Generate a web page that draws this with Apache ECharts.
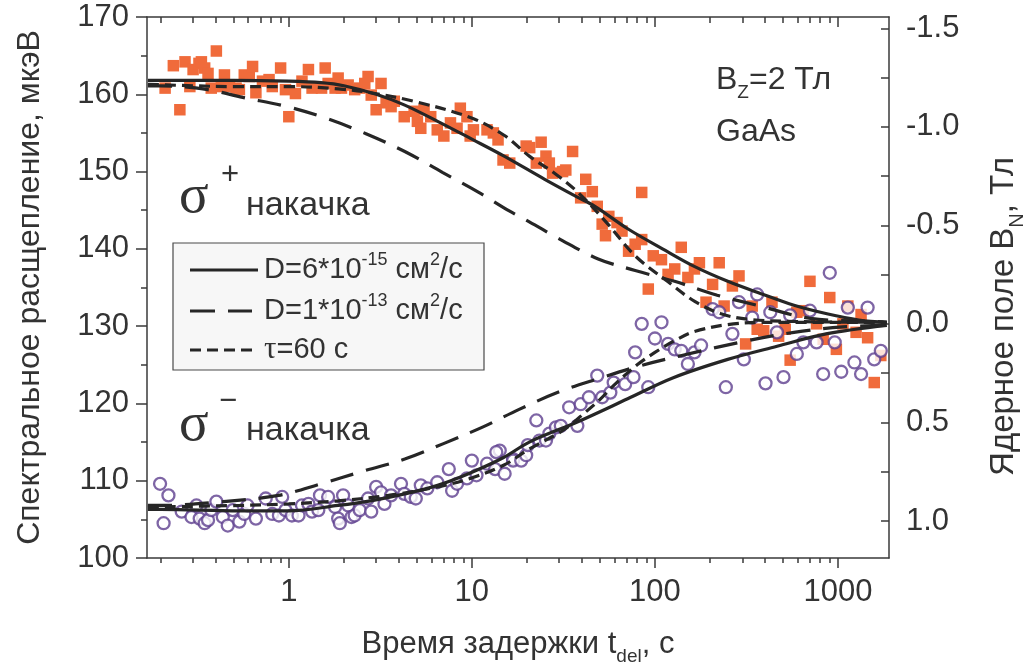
<!DOCTYPE html>
<html>
<head>
<meta charset="utf-8">
<script src="https://cdn.jsdelivr.net/npm/echarts@6/dist/echarts.min.js"></script>
<style>
  html, body { margin: 0; padding: 0; background: #ffffff; }
  #chart { width: 1035px; height: 671px; }
</style>
</head>
<body>
<div id="chart"></div>
<script>
// Delay-time range of the logarithmic x axis, in seconds
const xRange = [0.168, 1900];
// Spectral splitting range (left axis), μeV
const splitRange = [100, 170];
// Nuclear field range (right axis, inverted), T
const fieldRange = [-1.558, 1.188];

const xMajorTicks = [1, 10, 100, 1000];
const xMinorTicks = [0.2, 0.3, 0.4, 0.5, 0.6, 0.7, 0.8, 0.9,
  2, 3, 4, 5, 6, 7, 8, 9, 20, 30, 40, 50, 60, 70, 80, 90,
  200, 300, 400, 500, 600, 700, 800, 900];
const fieldLabels = [-1.5, -1.0, -0.5, 0.0, 0.5, 1.0];
const fieldTicks = [-1.5, -1.25, -1.0, -0.75, -0.5, -0.25, 0.0, 0.25, 0.5, 0.75, 1.0];

// Measured splitting, σ+ pumping: [t_del (s), splitting (μeV)]
const sigmaPlus = [
  [0.211,160.8],[0.234,163.7],[0.254,158.0],[0.271,164.2],[0.288,161.0],[0.300,163.2],
  [0.323,164.0],[0.333,164.2],[0.347,163.4],[0.362,162.7],[0.377,160.8],[0.402,165.6],
  [0.428,161.0],[0.445,162.5],[0.474,161.0],[0.515,160.8],[0.537,160.6],[0.571,162.5],
  [0.608,162.3],[0.634,163.6],[0.661,160.2],[0.718,161.7],[0.780,161.9],[0.812,161.0],
  [0.902,163.4],[0.959,160.6],[1.0,157.1],[1.087,160.1],[1.18,161.7],[1.28,163.2],
  [1.34,160.8],[1.51,160.8],[1.58,163.4],[1.64,161.4],[1.79,160.8],[1.86,162.1],
  [1.94,160.8],[2.11,161.2],[2.29,160.6],[2.44,160.8],[2.60,161.4],[2.71,162.3],
  [2.82,159.9],[3.00,158.0],[3.19,161.4],[3.40,158.9],[3.62,158.4],[3.77,159.1],
  [4.27,157.1],[4.84,157.8],[5.04,156.5],[5.26,155.6],[5.48,158.0],[5.96,157.1],
  [6.47,155.4],[7.03,154.6],[7.64,156.3],[8.30,155.6],[8.65,158.2],[9.40,157.1],
  [9.79,154.6],[10.2,155.4],[12.1,155.4],[13.1,155.0],[13.9,154.1],[14.8,151.5],
  [16.1,151.1],[19.8,153.3],[20.7,153.1],[22.5,151.1],[23.9,153.8],[25.4,152.0],
  [26.5,151.1],[27.6,149.8],[31.3,150.0],[32.6,150.2],[35.5,152.6],[41.9,149.0],
  [45.5,147.4],[84.7,147.3],[39.3,146.6],[48.4,145.5],[51.5,143.2],[53.7,141.7],
  [56.0,144.2],[62.1,143.4],[66.1,142.3],[71.8,139.7],[78.0,140.6],[84.7,141.2],
  [92.0,134.8],[97.9,139.1],[108.6,138.6],[118,136.7],[128.3,137.4],[139.3,140.2],
  [151.4,136.3],[164.4,137.4],[175,138.2],[190.2,133.1],[206.6,135.4],[224.5,138.2],
  [238.8,132.6],[265,135.2],[288,136.5],[313,127.7],[340,132.6],[362,129.6],
  [393,129.4],[436,133.1],[474,128.7],[515,129.6],[548,125.6],[596,131.8],
  [647,132.0],[703,135.8],[764,130.3],[830,128.3],[902,133.7],[980,127.0],
  [1064,130.3],[1132,132.6],[1256,129.2],[1337,131.5],[1452,128.5],[1578,122.7],
  [1714,126.2]
];

// Measured splitting, σ− pumping: [t_del (s), splitting (μeV)]
const sigmaMinus = [
  [0.198,109.6],[0.207,104.5],[0.220,108.1],[0.260,106.0],[0.294,105.3],[0.313,106.8],
  [0.326,105.1],[0.347,104.5],[0.362,104.9],[0.377,106.2],[0.402,107.3],[0.436,105.3],
  [0.464,104.2],[0.494,106.2],[0.537,104.7],[0.571,105.7],[0.595,106.8],[0.661,105.1],
  [0.748,107.7],[0.812,105.7],[0.883,105.5],[0.920,107.9],[0.959,106.2],[1.04,105.5],
  [1.13,105.5],[1.18,106.8],[1.28,107.0],[1.34,106.0],[1.45,106.2],[1.48,108.1],
  [1.64,107.9],[1.79,106.6],[1.86,105.1],[1.90,104.5],[1.98,108.1],[2.11,106.8],
  [2.20,105.3],[2.29,105.5],[2.44,106.2],[2.71,107.7],[2.82,106.0],[3.00,109.2],
  [3.19,108.5],[3.33,107.0],[3.62,108.1],[4.10,109.6],[4.27,108.3],[4.64,107.9],
  [4.94,107.7],[5.26,109.4],[5.71,109.0],[6.47,109.8],[7.48,111.5],[7.80,108.7],
  [8.30,109.6],[9.40,110.3],[10.0,112.6],[10.6,110.7],[12.1,112.2],[13.4,111.5],
  [14.2,113.9],[15.1,110.9],[16.8,112.8],[13.6,113.7],[16.8,112.6],[18.6,112.6],
  [19.8,113.3],[20.2,114.6],[22.5,117.8],[23.4,115.2],[25.4,115.2],[26.5,116.1],
  [28.8,116.9],[30.6,117.1],[34.0,119.5],[37.7,117.1],[39.3,119.9],[43.6,120.8],
  [48.4,123.6],[51.5,120.8],[57.1,121.4],[59.5,122.7],[68.8,122.5],[76.4,123.4],
  [92.0,122.1],[151.4,125.1],[244,122.1],[306,125.7],[402,122.6],[504,123.4],
  [830,123.8],[1042,124.1],[1230,125.3],[1337,123.8],[1578,125.7],
  [84.7,130.3],[108.6,130.5],[100,128.4],[118,127.7],[128.3,127.0],[139.3,126.8],
  [164.4,126.6],[178.7,127.5],[78.0,126.6],[206.6,132.2],[224.5,131.8],[265,129.0],
  [288,133.1],[340,131.1],[362,134.1],[427,131.8],[464,129.2],[548,131.4],
  [596,126.4],[647,127.9],[703,132.0],[764,127.9],[902,136.9],[960,127.9],
  [1132,132.4],[1452,132.4],[1714,126.8]
];

// Model curves, D = 6e-15 cm²/s
const diffSlowPlus = [
  [0.17,161.8],[0.3,161.8],[0.5,161.8],[1,161.7],[1.5,161.5],[2,161.1],[3,160.0],
  [4.3,158.6],[6.5,156.5],[10,154.2],[15,152.0],[25,149.0],[37,146.8],[47,145.5],
  [71,142.6],[110,140.0],[165,137.7],[250,135.8],[380,134.2],[575,132.7],[870,131.6],
  [1300,130.8],[1850,130.5]
];
const diffSlowMinus = [
  [0.17,106.3],[0.2,106.3],[0.54,106.1],[1,106.1],[1.86,106.8],[2.8,107.4],[4.3,108.3],
  [6.5,109.4],[9.8,111.0],[14.9,113.0],[20.6,115.0],[38.5,117.7],[71,120.6],[125,123.3],
  [250,125.7],[465,127.4],[860,129.0],[1850,130.1]
];
// Model curves, D = 1e-13 cm²/s
const diffFastPlus = [
  [0.17,161.1],[0.2,161.1],[0.36,160.6],[0.56,159.6],[0.98,158.4],[1.6,156.9],[2.64,154.9],
  [4.3,152.6],[6.9,149.9],[10.9,147.3],[16,144.9],[20.6,143.5],[30,141.3],[49,138.7],
  [78,137.2],[128,135.8],[219,134.0],[362,132.7],[707,131.0],[1600,130.6],[1850,130.5]
];
const diffFastMinus = [
  [0.17,106.8],[0.2,106.8],[0.44,107.3],[0.88,108.1],[1.5,109.6],[2.6,111.3],[4.3,112.8],
  [7.0,114.8],[11.6,117.0],[18,119.2],[30,121.5],[49,123.2],[81,124.8],[140,126.2],
  [318,128.1],[575,129.2],[1060,129.9],[1850,130.1]
];
// Model curves, τ = 60 s
const tauPlus = [
  [0.17,161.3],[0.3,161.1],[0.5,161.0],[1,161.0],[1.86,160.7],[2.8,160.2],[4.8,159.1],
  [9.8,157.0],[15,154.7],[20.6,152.0],[29,149.6],[38,147.3],[54,143.5],[78,139.1],
  [117,135.8],[165,133.2],[230,131.6],[320,130.9],[600,130.6],[1850,130.5]
];
const tauMinus = [
  [0.17,106.6],[0.54,106.8],[1,107.0],[1.86,107.4],[3.5,108.1],[6.5,109.2],[9.8,110.3],
  [14.9,112.0],[20.6,114.1],[31.4,116.5],[40,118.5],[50,120.5],[60,122.4],[80,125.0],
  [100,126.6],[130,128.2],[164,129.3],[250,130.2],[400,130.5],[1850,130.5]
];

const FONT = "'Liberation Sans', Arial, Helvetica, sans-serif";
const SERIF = "'Liberation Serif', 'Times New Roman', serif";
const TEXT = '#333333';
const AXIS = '#3a3a3a';
const CURVE = '#262626';
const ORANGE = '#f06b3b';
const PURPLE = '#5e3f8e';
const LONG_DASH = [24, 13];
const SHORT_DASH = [11, 6];

const axisLine = { show: true, onZero: false, lineStyle: { color: AXIS, width: 1.5 } };
const hiddenLine = { show: false, onZero: false };
const tickLine = { color: AXIS, width: 1.5 };

function xAxisBase(position) {
  return {
    type: 'log', logBase: 10, min: xRange[0], max: xRange[1],
    position: position, gridIndex: 0,
    splitLine: { show: false },
    axisLine: axisLine
  };
}

function curve(name, data, dash) {
  return {
    name: name, type: 'line', data: data, xAxisIndex: 0, yAxisIndex: 0,
    showSymbol: false, symbol: 'none', smooth: 0.35, z: 5, silent: true,
    lineStyle: { color: CURVE, width: 3.2, type: dash, cap: 'butt' }
  };
}

function plainText(x, y, text, font) {
  return {
    type: 'text', x: x, y: y, z: 10,
    style: { text: text, font: font, fill: TEXT, align: 'left', verticalAlign: 'middle',
      textAlign: 'left', textVerticalAlign: 'middle' }
  };
}

const chart = echarts.init(document.getElementById('chart'), null, { renderer: 'canvas' });

const legendX = 173, legendY = 243;
const legendRows = [270, 311, 350];

chart.setOption({
  animation: false,
  backgroundColor: '#ffffff',
  textStyle: { fontFamily: FONT },
  grid: { left: 147, right: 138, top: 17, bottom: 112, containLabel: false },
  xAxis: [
    Object.assign(xAxisBase('bottom'), {
      axisTick: { show: true, inside: false, length: 10, customValues: xMajorTicks, lineStyle: tickLine },
      axisLabel: {
        customValues: xMajorTicks, margin: 19, fontSize: 31, color: TEXT, fontFamily: FONT,
        formatter: function (v) { return String(Math.round(v)); }
      },
      name: '{m|Время задержки t}{s|del}{m|, с}',
      nameLocation: 'middle', nameGap: 64,
      nameTextStyle: {
        rich: {
          m: { fontSize: 31, fontFamily: FONT, color: TEXT, lineHeight: 44, verticalAlign: 'middle' },
          s: { fontSize: 19, fontFamily: FONT, color: TEXT, lineHeight: 44, verticalAlign: 'bottom' }
        }
      }
    }),
    Object.assign(xAxisBase('bottom'), {
      axisLine: hiddenLine,
      axisTick: { show: true, inside: false, length: 5, customValues: xMinorTicks, lineStyle: tickLine },
      axisLabel: { show: false }
    }),
    Object.assign(xAxisBase('top'), {
      axisTick: { show: true, inside: true, length: 10, customValues: xMajorTicks, lineStyle: tickLine },
      axisLabel: { show: false }
    }),
    Object.assign(xAxisBase('top'), {
      axisLine: hiddenLine,
      axisTick: { show: true, inside: true, length: 6, customValues: xMinorTicks, lineStyle: tickLine },
      axisLabel: { show: false }
    })
  ],
  yAxis: [
    {
      type: 'value', min: splitRange[0], max: splitRange[1], interval: 10, position: 'left',
      splitLine: { show: false },
      axisLine: axisLine,
      axisTick: { show: true, inside: false, length: 11, lineStyle: tickLine },
      minorTick: { show: true, splitNumber: 2, length: 6, lineStyle: tickLine },
      minorSplitLine: { show: false },
      axisLabel: { margin: 18, fontSize: 31, color: TEXT, fontFamily: FONT },
      name: 'Спектральное расщепление, мкэВ',
      nameLocation: 'middle', nameGap: 101, nameRotate: 90,
      nameTextStyle: { fontSize: 32, fontFamily: FONT, color: TEXT }
    },
    {
      type: 'value', min: fieldRange[0], max: fieldRange[1], inverse: true, position: 'right',
      splitLine: { show: false },
      axisLine: axisLine,
      axisTick: { show: true, inside: true, length: 8, customValues: fieldTicks, lineStyle: tickLine },
      axisLabel: {
        customValues: fieldLabels, margin: 17, fontSize: 31, color: TEXT, fontFamily: FONT,
        formatter: function (v) { return v.toFixed(1); }
      },
      name: '{m|Ядерное поле B}{s|N}{m|, Тл}',
      nameLocation: 'middle', nameGap: 92, nameRotate: 90,
      nameTextStyle: {
        padding: [0, 58, 0, 0],
        rich: {
          m: { fontSize: 33, fontFamily: FONT, color: TEXT, lineHeight: 46, verticalAlign: 'middle' },
          s: { fontSize: 20, fontFamily: FONT, color: TEXT, lineHeight: 46, verticalAlign: 'bottom' }
        }
      }
    }
  ],
  series: [
    {
      name: 'σ+', type: 'scatter', data: sigmaPlus, xAxisIndex: 0, yAxisIndex: 0,
      symbol: 'rect', symbolSize: 11.5, z: 2, silent: true,
      itemStyle: { color: ORANGE, opacity: 1 }
    },
    {
      name: 'σ−', type: 'scatter', data: sigmaMinus, xAxisIndex: 0, yAxisIndex: 0,
      symbol: 'circle', symbolSize: 12, z: 3, silent: true,
      itemStyle: { color: '#ffffff', borderColor: PURPLE, borderWidth: 2.3 }
    },
    curve('D=6e-15 σ+', diffSlowPlus, 'solid'),
    curve('D=6e-15 σ−', diffSlowMinus, 'solid'),
    curve('D=1e-13 σ+', diffFastPlus, LONG_DASH),
    curve('D=1e-13 σ−', diffFastMinus, LONG_DASH),
    curve('τ=60 σ+', tauPlus, SHORT_DASH),
    curve('τ=60 σ−', tauMinus, SHORT_DASH)
  ],
  graphic: [
    // Field / sample annotation
    {
      type: 'text', x: 716, y: 80, z: 10,
      style: {
        text: '{m|B}{s|Z}{m|=2 Тл}', align: 'left', verticalAlign: 'middle',
        textAlign: 'left', textVerticalAlign: 'middle',
        rich: {
          m: { fontSize: 32, fontFamily: FONT, fill: TEXT, lineHeight: 44, verticalAlign: 'middle' },
          s: { fontSize: 19, fontFamily: FONT, fill: TEXT, lineHeight: 44, verticalAlign: 'bottom' }
        }
      }
    },
    plainText(716, 132, 'GaAs', '32px ' + FONT),
    // Pumping labels
    plainText(179, 198, 'σ', '55px ' + SERIF),
    plainText(221, 175, '+', '31px ' + FONT),
    plainText(246, 206, 'накачка', '34px ' + FONT),
    plainText(179, 426, 'σ', '55px ' + SERIF),
    plainText(219, 401, '−', '31px ' + FONT),
    plainText(246, 431, 'накачка', '34px ' + FONT),
    // Legend box
    {
      type: 'rect', z: 8,
      shape: { x: legendX, y: legendY, width: 311, height: 127 },
      style: { fill: '#f7f7f7', stroke: '#4a4a4a', lineWidth: 1.2 }
    },
    { type: 'line', z: 9, shape: { x1: 190, y1: legendRows[0], x2: 258, y2: legendRows[0] },
      style: { stroke: CURVE, lineWidth: 3.2 } },
    { type: 'line', z: 9, shape: { x1: 190, y1: legendRows[1], x2: 252, y2: legendRows[1] },
      style: { stroke: CURVE, lineWidth: 3.2, lineDash: [25, 13] } },
    { type: 'line', z: 9, shape: { x1: 190, y1: legendRows[2], x2: 256, y2: legendRows[2] },
      style: { stroke: CURVE, lineWidth: 3.2, lineDash: [11, 6] } },
    {
      type: 'text', x: 264, y: legendRows[0], z: 9,
      style: {
        text: '{m|D=6*10}{p|-15}{m| см}{p|2}{m|/с}', align: 'left', verticalAlign: 'middle',
        textAlign: 'left', textVerticalAlign: 'middle',
        rich: {
          m: { fontSize: 29, fontFamily: FONT, fill: TEXT, lineHeight: 38, verticalAlign: 'middle' },
          p: { fontSize: 18, fontFamily: FONT, fill: TEXT, lineHeight: 38, verticalAlign: 'top' }
        }
      }
    },
    {
      type: 'text', x: 264, y: legendRows[1], z: 9,
      style: {
        text: '{m|D=1*10}{p|-13}{m| см}{p|2}{m|/с}', align: 'left', verticalAlign: 'middle',
        textAlign: 'left', textVerticalAlign: 'middle',
        rich: {
          m: { fontSize: 29, fontFamily: FONT, fill: TEXT, lineHeight: 38, verticalAlign: 'middle' },
          p: { fontSize: 18, fontFamily: FONT, fill: TEXT, lineHeight: 38, verticalAlign: 'top' }
        }
      }
    },
    {
      type: 'text', x: 264, y: legendRows[2], z: 9,
      style: {
        text: '{t|τ}{m|=60 с}', align: 'left', verticalAlign: 'middle',
        textAlign: 'left', textVerticalAlign: 'middle',
        rich: {
          t: { fontSize: 31, fontFamily: SERIF, fill: TEXT, lineHeight: 38, verticalAlign: 'middle' },
          m: { fontSize: 29, fontFamily: FONT, fill: TEXT, lineHeight: 38, verticalAlign: 'middle' }
        }
      }
    }
  ]
});
</script>
</body>
</html>
